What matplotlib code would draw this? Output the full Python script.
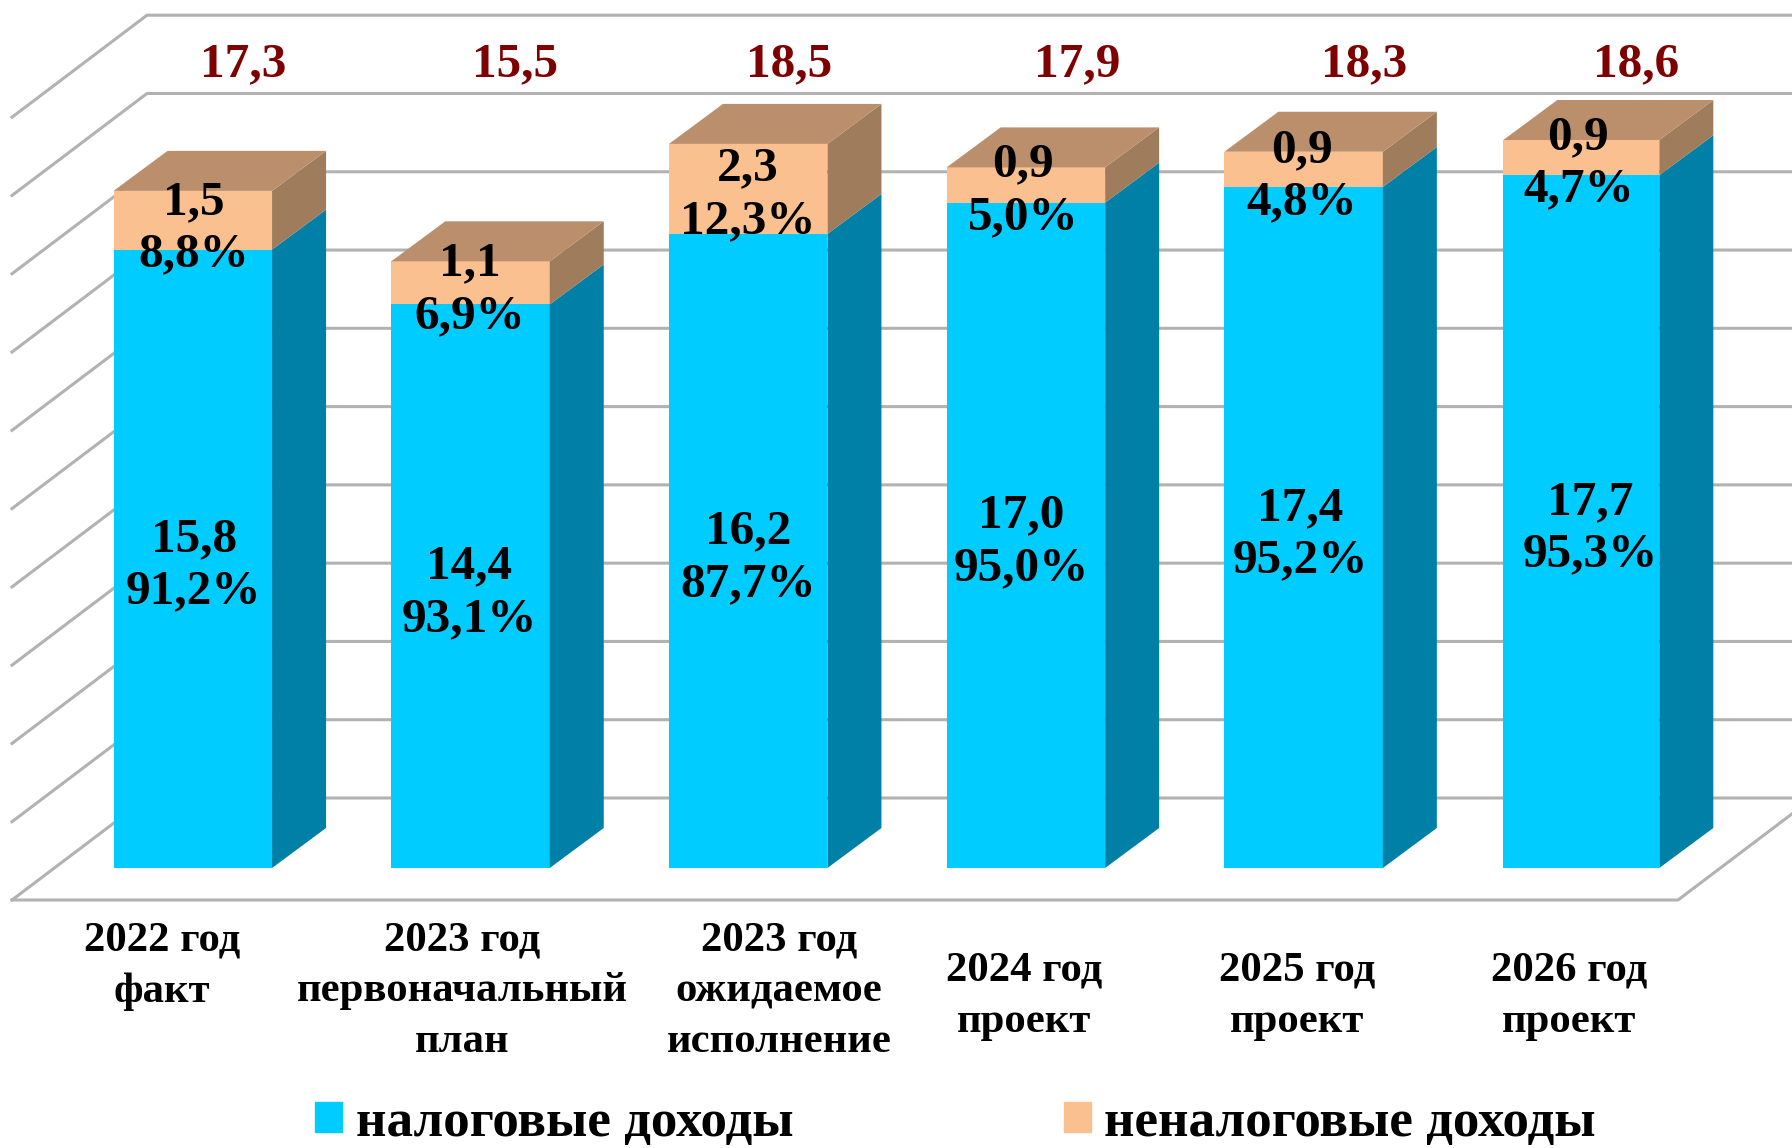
import numpy as np
from matplotlib import pyplot as plt
from matplotlib.patches import Patch, Polygon

plt.rcParams['font.family'] = ['Liberation Serif', 'DejaVu Serif']
plt.rcParams['font.weight'] = 'bold'

# Chart data
categories = ['2022 год\nфакт', '2023 год\nпервоначальный\nплан', '2023 год\nожидаемое\nисполнение',
              '2024 год\nпроект', '2025 год\nпроект', '2026 год\nпроект']
tax_income = [15.8, 14.4, 16.2, 17.0, 17.4, 17.7]
nontax_income = [1.5, 1.1, 2.3, 0.9, 0.9, 0.9]
tax_share = ['91,2%', '93,1%', '87,7%', '95,0%', '95,2%', '95,3%']
nontax_share = ['8,8%', '6,9%', '12,3%', '5,0%', '4,8%', '4,7%']
totals = ['17,3', '15,5', '18,5', '17,9', '18,3', '18,6']
tax_labels = ['15,8', '14,4', '16,2', '17,0', '17,4', '17,7']
nontax_labels = ['1,5', '1,1', '2,3', '0,9', '0,9', '0,9']
grid_values = [0, 2, 4, 6, 8, 10, 12, 14, 16, 18, 20]
legend_names = ['налоговые доходы', 'неналоговые доходы']

# Layout: the axes fill the figure, so pixels of the image map straight onto data units
W, H = 1792, 1148
PX_PER_CAT = 277.7
PX_PER_UNIT = 39.14
X0_PX = 192.8
Y0_PX = 868


def x_of(px):
    return (px - X0_PX) / PX_PER_CAT


def y_of(py):
    return (Y0_PX - py) / PX_PER_UNIT


# The last bar is a little narrower in the original
bar_widths = np.array([158.5, 158.5, 158.5, 158.5, 158.5, 156]) / PX_PER_CAT
depth_x = 54 / PX_PER_CAT
depth_y = 40 / PX_PER_UNIT

blue, blue_side = '#00CCFF', '#0080A6'
tan, tan_top, tan_side = '#FAC090', '#BB8F6C', '#9F7C5C'
grid_color = '#B2B2B2'
total_color = '#7F0000'

fig = plt.figure(figsize=(W / 100, H / 100), dpi=100)
ax = fig.add_axes([0, 0, 1, 1])
ax.set_xlim(x_of(0), x_of(W))
ax.set_ylim(y_of(H), y_of(0))
ax.axis('off')

# Back wall and left wall grid
grid_left, grid_front = x_of(147), x_of(12)
grid_right = x_of(W)
wall_lift = y_of(798)
floor_drop = y_of(900) - y_of(798)
for v in grid_values:
    y = v + wall_lift
    ax.plot([grid_front, grid_left, grid_right], [y + floor_drop, y, y],
            color=grid_color, lw=2.2, zorder=1, solid_joinstyle='miter')

# Floor front edge and right edge
floor_y = y_of(900)
floor_right = x_of(1678)
ax.plot([grid_front, floor_right, floor_right + x_of(147) - x_of(12)],
        [floor_y, floor_y, floor_y - floor_drop], color=grid_color, lw=2.2, zorder=1)

x = np.arange(len(categories))
tax = np.array(tax_income)
nontax = np.array(nontax_income)
top = tax + nontax

ax.bar(x, tax, bar_widths, color=blue, zorder=3)
ax.bar(x, nontax, bar_widths, bottom=tax, color=tan, zorder=3)

# Fake 3D faces on each bar
for i in x:
    r = i + bar_widths[i] / 2
    l = i - bar_widths[i] / 2
    ax.add_patch(Polygon([(r, 0), (r + depth_x, depth_y), (r + depth_x, tax[i] + depth_y), (r, tax[i])],
                         closed=True, fc=blue_side, ec='none', zorder=3))
    ax.add_patch(Polygon([(r, tax[i]), (r + depth_x, tax[i] + depth_y), (r + depth_x, top[i] + depth_y), (r, top[i])],
                         closed=True, fc=tan_side, ec='none', zorder=3))
    ax.add_patch(Polygon([(l, top[i]), (r, top[i]), (r + depth_x, top[i] + depth_y), (l + depth_x, top[i] + depth_y)],
                         closed=True, fc=tan_top, ec='none', zorder=3))

# Labels were hand placed in the original, so they carry small shifts
tax_shift = [1, -1, 0, -5, -3, 9]
nontax_shift = [1, -1, 0, -3, -2, -3]
nontax_lift = [0, 1, 2, 2, 1, 2]
total_x_px = [243.5, 515.5, 789, 1077, 1364, 1636]
cat_x_px = [162, 462, 779, 1024, 1297, 1569]
cat_top_px = [921, 921, 921, 952, 952, 952]

for i in x:
    ax.text(i + tax_shift[i] / PX_PER_CAT, tax[i] / 2 - 0.17, tax_labels[i] + '\n' + tax_share[i],
            ha='center', va='center', fontsize=35.5, linespacing=1.25, zorder=5)
    ax.text(i + nontax_shift[i] / PX_PER_CAT, tax[i] + nontax[i] / 2 - 0.2 + nontax_lift[i] / PX_PER_UNIT,
            nontax_labels[i] + '\n' + nontax_share[i],
            ha='center', va='center', fontsize=35.5, linespacing=1.25, zorder=5)
    ax.text(x_of(total_x_px[i]), y_of(76), totals[i], ha='center', va='baseline',
            fontsize=35.5, color=total_color, zorder=5)
    ax.text(x_of(cat_x_px[i]), y_of(cat_top_px[i]), categories[i], ha='center', va='top',
            fontsize=30.8, linespacing=1.45, zorder=5)

handles = [Patch(color=blue, label=legend_names[0]), Patch(color=tan, label=legend_names[1])]
ax.legend(handles=handles, ncol=2, frameon=False, loc='lower left',
          bbox_to_anchor=(315 / W, 1 / H), bbox_transform=fig.transFigure,
          fontsize=38.2, borderpad=0, borderaxespad=0, handlelength=0.51, handleheight=0.51,
          handletextpad=0.26, columnspacing=5.09)

fig.savefig('out.png', dpi=100)
